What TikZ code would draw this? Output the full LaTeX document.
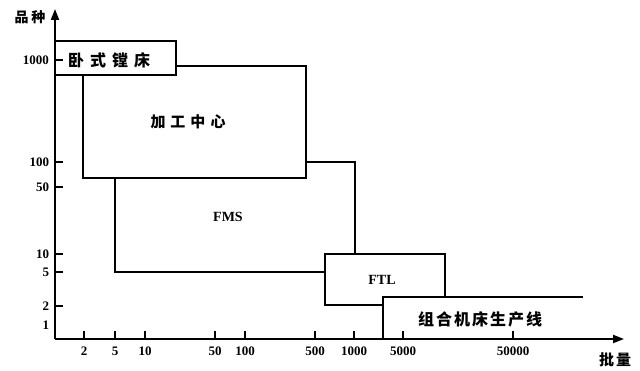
\documentclass[tikz,border=0pt]{standalone}
\usepackage{fontspec}
\setmainfont{Liberation Serif}
\newfontfamily\cjk{Noto Sans CJK SC}
\usetikzlibrary{arrows.meta}
\begin{document}
\begin{tikzpicture}[x=1pt,y=-1pt,line width=2pt,line join=miter,
  axis/.style={line width=2pt,-{Triangle[length=11pt,width=8pt]}},
  tickmark/.style={line width=1.3pt},
  num/.style={font=\fontsize{13}{13}\selectfont\bfseries,inner sep=0pt},
  cn/.style={font=\cjk\bfseries\fontsize{16}{16}\selectfont,inner sep=0pt},
  lat/.style={font=\fontsize{14}{14}\selectfont\bfseries,inner sep=0pt}]
\useasboundingbox (0,0) rectangle (640,371);
% axes
\coordinate (O) at (55,339);
\coordinate (ytop) at (55,9);
\coordinate (xend) at (624,339);
\draw[axis] (O) -- (ytop);
\draw[axis] (O) -- (xend);
\node[cn,font=\cjk\bfseries\fontsize{14}{14}\selectfont] (ylab) at (30,17) {品\hspace{3pt}种};
\node[cn,font=\cjk\bfseries\fontsize{15}{15}\selectfont] (xlab) at (615,360) {批\hspace{2pt}量};
% y ticks
\foreach \v/\y in {1000/60,100/162,50/187,10/254,5/272,2/306}{
  \draw[tickmark] (55,\y) -- (63,\y);
  \node[num,anchor=east] (yl\v) at (50,\y) {\v};
}
\node[num,anchor=east] (yl1) at (50,325) {1};
% x ticks
\foreach \v/\x in {2/84,5/115,10/145,50/215,100/245,500/315,1000/354,5000/403,50000/513}{
  \draw[tickmark] (\x,339) -- (\x,331);
  \node[num] (xl\v) at (\x,351) {\v};
}
% boxes
\draw (55,75) -- (55,41) -- (176,41) -- (176,75) -- (55,75);
\draw (176,66) -- (306,66) -- (306,178) -- (83,178) -- (83,75);
\draw (115,178) -- (115,272) -- (325,272);
\draw (306,162) -- (355,162) -- (355,254);
\draw (383,305) -- (325,305) -- (325,254) -- (445,254) -- (445,297);
\draw (383,339) -- (383,297) -- (583,297);
% labels
\node[cn] (hbc) at (109,60) {卧\hspace{6pt}式\hspace{6pt}镗\hspace{6pt}床};
\node[cn,font=\cjk\bfseries\fontsize{15}{15}\selectfont] (jgzx) at (188,122) {加\hspace{5pt}工\hspace{5pt}中\hspace{5pt}心};
\node[lat] (fms) at (228,217) {FMS};
\node[lat] (ftl) at (382,280) {FTL};
\node[cn] (zhjc) at (480,319) {组\hspace{2pt}合\hspace{2pt}机\hspace{2pt}床\hspace{2pt}生\hspace{2pt}产\hspace{2pt}线};
\end{tikzpicture}
\end{document}
